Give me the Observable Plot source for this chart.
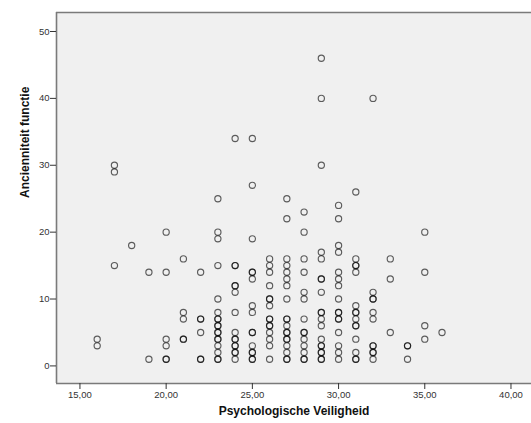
<!DOCTYPE html>
<html>
<head>
<meta charset="utf-8">
<script src="https://cdn.jsdelivr.net/npm/d3@7"></script>
<script src="https://cdn.jsdelivr.net/npm/@observablehq/plot@0.6"></script>
<style>
  html, body { margin: 0; padding: 0; background: #fff; }
  svg { display: block; }
</style>
</head>
<body>
<div id="chart"></div>
<script>
// Raw observations (duplicates are overlapping respondents)
const psychVeiligheid = [
  16,16,
  17,17,17,
  18,
  19,19,
  20,20,20,20,20,20,
  21,21,21,21,21,
  22,22,22,22,22,22,
  23,23,23,23,23,23,23,23,23,23,23,23,23,23,23,23,23,23,
  24,24,24,24,24,24,24,24,24,24,24,24,24,24,24,
  25,25,25,25,25,25,25,25,25,25,25,25,25,25,25,
  26,26,26,26,26,26,26,26,26,26,26,26,26,26,26,
  27,27,27,27,27,27,27,27,27,27,27,27,27,27,27,27,27,27,27,
  28,28,28,28,28,28,28,28,28,28,28,28,28,28,
  29,29,29,29,29,29,29,29,29,29,29,29,29,29,29,29,29,29,29,
  30,30,30,30,30,30,30,30,30,30,30,30,30,30,30,30,
  31,31,31,31,31,31,31,31,31,31,31,31,31,31,31,
  32,32,32,32,32,32,32,32,32,32,32,
  33,33,33,
  34,34,34,
  35,35,35,35,
  36
];
const ancienniteit = [
  4,3,
  30,29,15,
  18,
  14,1,
  20,14,4,3,1,1,
  16,8,7,4,4,
  14,7,7,5,1,1,
  25,20,19,15,10,8,7,7,6,6,5,5,4,4,3,2,1,1,
  34,15,15,12,12,11,8,5,4,4,3,3,2,2,1,
  34,27,19,14,14,13,9,8,5,5,3,2,2,1,1,
  16,15,14,12,10,10,9,7,7,6,6,5,4,3,1,
  25,22,16,15,14,13,12,10,7,7,6,5,5,4,4,3,2,1,1,
  23,20,16,14,11,10,7,5,5,4,3,2,1,1,
  46,40,30,17,16,13,13,11,8,8,7,6,4,3,3,2,2,1,1,
  24,22,18,17,14,13,12,10,8,8,7,7,5,3,2,1,
  26,16,15,15,14,9,8,8,7,6,6,4,2,1,1,
  40,11,10,10,8,7,3,3,2,2,1,
  16,13,5,
  3,3,1,
  20,14,6,4,
  5
];
const xTicks = [15, 20, 25, 30, 35, 40];
const yTicks = [0, 10, 20, 30, 40, 50];
const xTitle = "Psychologische Veiligheid";
const yTitle = "Ancienniteit functie";

const data = psychVeiligheid.map((x, i) => ({x, y: ancienniteit[i]}));
const xDomain = [13.64, 41.19];
const yDomain = [-2.63, 52.84];

const chart = Plot.plot({
  width: 531,
  height: 423,
  marginTop: 12,
  marginLeft: 56,
  marginRight: 0,
  marginBottom: 40,
  style: {fontFamily: "Liberation Sans, Arial, sans-serif", background: "#fff", overflow: "hidden"},
  x: {domain: xDomain},
  y: {domain: yDomain},
  marks: [
    Plot.frame({fill: "#f0f0f0", stroke: null}),
    Plot.ruleX([xDomain[0]], {stroke: "#7a7a7a", strokeWidth: 1.6}),
    Plot.ruleY([yDomain[1], yDomain[0]], {stroke: "#7a7a7a", strokeWidth: 1.6}),
    Plot.dot(data, {x: "x", y: "y", r: 3.1, stroke: "#000", strokeOpacity: 0.62, strokeWidth: 1.15, fill: "none"}),
    Plot.axisX({ticks: xTicks, tickFormat: d => d.toFixed(2).replace(".", ","), tickSize: 6, tickPadding: 2, fontSize: 9.5, color: "#333", stroke: "#333", label: null}),
    Plot.axisY({ticks: yTicks, tickFormat: d => String(d), tickSize: 6, tickPadding: 1, fontSize: 9.5, color: "#333", stroke: "#333", label: null}),
    Plot.text([xTitle], {frameAnchor: "bottom", dy: 28, text: d => d, fontSize: 12, fontWeight: "bold", fill: "#111", lineAnchor: "middle"}),
    Plot.text([yTitle], {frameAnchor: "left", dx: -31, rotate: -90, text: d => d, fontSize: 12, fontWeight: "bold", fill: "#111", lineAnchor: "middle"})
  ]
});
document.getElementById("chart").appendChild(chart);
</script>
</body>
</html>
